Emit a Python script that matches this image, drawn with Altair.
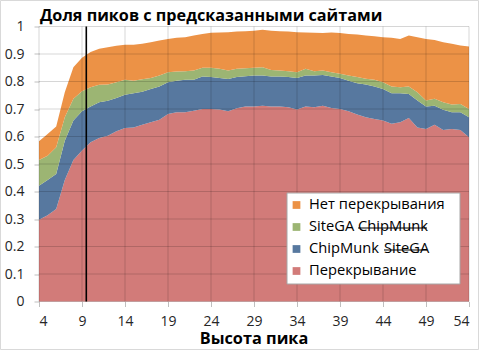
import altair as alt
import pandas as pd

# ---------------- data ----------------
x_vals = list(range(4, 55))

overlap = [0.297, 0.314, 0.336, 0.442, 0.515, 0.549, 0.579, 0.595, 0.603, 0.619,
           0.631, 0.633, 0.643, 0.652, 0.661, 0.682, 0.688, 0.688, 0.694, 0.700,
           0.700, 0.698, 0.692, 0.703, 0.709, 0.709, 0.712, 0.709, 0.709, 0.706,
           0.698, 0.709, 0.706, 0.712, 0.704, 0.700, 0.692, 0.680, 0.670, 0.664,
           0.658, 0.646, 0.652, 0.667, 0.633, 0.627, 0.643, 0.624, 0.627, 0.624,
           0.597]
chipmunk_only = [0.124, 0.128, 0.128, 0.143, 0.143, 0.143, 0.130, 0.130, 0.127, 0.121,
                 0.121, 0.124, 0.120, 0.121, 0.121, 0.115, 0.115, 0.118, 0.112, 0.118,
                 0.116, 0.115, 0.117, 0.113, 0.110, 0.113, 0.110, 0.109, 0.109, 0.110,
                 0.115, 0.113, 0.116, 0.112, 0.114, 0.113, 0.111, 0.114, 0.119, 0.118,
                 0.115, 0.111, 0.105, 0.088, 0.098, 0.082, 0.069, 0.073, 0.061, 0.064,
                 0.073]
sitega_only = [0.094, 0.088, 0.097, 0.085, 0.079, 0.073, 0.070, 0.063, 0.059, 0.057,
               0.054, 0.046, 0.045, 0.040, 0.040, 0.037, 0.033, 0.031, 0.034, 0.032,
               0.034, 0.033, 0.031, 0.030, 0.029, 0.028, 0.030, 0.024, 0.022, 0.021,
               0.021, 0.024, 0.015, 0.016, 0.016, 0.015, 0.019, 0.022, 0.021, 0.024,
               0.024, 0.025, 0.022, 0.027, 0.030, 0.022, 0.025, 0.028, 0.028, 0.030,
               0.030]
no_overlap = [0.068, 0.079, 0.075, 0.091, 0.115, 0.121, 0.128, 0.131, 0.136, 0.133,
              0.128, 0.131, 0.129, 0.130, 0.127, 0.121, 0.123, 0.124, 0.127, 0.123,
              0.127, 0.132, 0.139, 0.136, 0.135, 0.135, 0.136, 0.143, 0.143, 0.145,
              0.145, 0.132, 0.140, 0.136, 0.144, 0.148, 0.151, 0.155, 0.157, 0.159,
              0.164, 0.177, 0.176, 0.185, 0.200, 0.224, 0.214, 0.218, 0.221, 0.213,
              0.227]

series_names = ["Перекрывание", "ChipMunk SiteGA", "SiteGA ChipMunk", "Нет перекрывания"]
series_colors = ["#D27B79", "#57789F", "#9CB573", "#EC9246"]
series_values = [overlap, chipmunk_only, sitega_only, no_overlap]

x_ticks = [4, 9, 14, 19, 24, 29, 34, 39, 44, 49, 54]
y_ticks = [0, 0.1, 0.2, 0.3, 0.4, 0.5, 0.6, 0.7, 0.8, 0.9, 1.0]
marker_x = [9.5]

title_text = "Доля пиков с предсказанными сайтами"
x_title = "Высота пика"

# legend rows (top to bottom): (plain text, struck-through word)
legend_rows = [("Нет перекрывания", ""), ("SiteGA", "ChipMunk"),
               ("ChipMunk", "SiteGA"), ("Перекрывание", "")]
legend_colors = ["#EC9246", "#9CB573", "#57789F", "#D27B79"]

FONT = "Open Sans"

rows = []
for k, (name, vals) in enumerate(zip(series_names, series_values)):
    for xv, v in zip(x_vals, vals):
        rows.append({"x": xv, "v": v, "series": name, "ord": k})
df = pd.DataFrame(rows)

W, H = 430, 275

x_scale = alt.Scale(domain=[4, 54], nice=False, zero=False)
y_scale = alt.Scale(domain=[0, 1], nice=False)
x_axis = alt.Axis(values=x_ticks, grid=False, domain=False, tickSize=5,
                  tickColor="#BFBFBF", labelFontSize=14, labelFont=FONT,
                  labelColor="#262626", labelPadding=8, labelOverlap=False,
                  title=None)
y_axis = alt.Axis(values=y_ticks, format=".1~f", grid=False, domain=False,
                  tickSize=5, tickColor="#BFBFBF", labelFontSize=14,
                  labelFont=FONT, labelColor="#262626", labelPadding=10,
                  labelOverlap=False, title=None)

areas = alt.Chart(df).mark_area(opacity=1, interpolate="linear").encode(
    x=alt.X("x:Q", scale=x_scale, axis=x_axis),
    y=alt.Y("v:Q", stack="zero", scale=y_scale, axis=y_axis),
    color=alt.Color("series:N", scale=alt.Scale(domain=series_names, range=series_colors),
                    legend=None),
    order=alt.Order("ord:Q", sort="ascending"),
)

hgrid = alt.Chart(pd.DataFrame({"g": y_ticks})).mark_rule(
    color="#000000", opacity=0.16, strokeWidth=1).encode(
    y=alt.Y("g:Q", scale=y_scale, axis=y_axis))
vgrid = alt.Chart(pd.DataFrame({"g": x_ticks})).mark_rule(
    color="#000000", opacity=0.16, strokeWidth=1).encode(
    x=alt.X("g:Q", scale=x_scale, axis=x_axis))

vline = alt.Chart(pd.DataFrame({"m": marker_x})).mark_rule(
    color="#000000", strokeWidth=1.6).encode(x=alt.X("m:Q", scale=x_scale, axis=x_axis))

one = pd.DataFrame({"a": [0]})

title = alt.Chart(one).mark_text(
    text=title_text, font=FONT, fontSize=16.2, fontWeight="bold", align="left",
    baseline="alphabetic", color="#000000").encode(x=alt.value(1), y=alt.value(-5.5))

xtitle = alt.Chart(one).mark_text(
    text=x_title, font=FONT, fontSize=16.3, fontWeight="bold", align="center",
    baseline="alphabetic", color="#000000").encode(x=alt.value(W / 2), y=alt.value(H + 42))

# legend
LX0, LX1, LY0, LY1 = 248, 421, 166.5, 257.5
layers = [
    alt.Chart(one).mark_rect(fill="white", stroke="#A6A6A6", strokeWidth=1).encode(
        x=alt.value(LX0), x2=alt.value(LX1), y=alt.value(LY0), y2=alt.value(LY1))
]
row_y0, row_dy = 178.5, 22.0
strike_x = {"ChipMunk": (319, 388), "SiteGA": (345, 388)}
for i, ((plain, struck), col) in enumerate(zip(legend_rows, legend_colors)):
    yy = row_y0 + i * row_dy
    layers.append(alt.Chart(one).mark_square(size=60, color=col, opacity=1).encode(
        x=alt.value(257.5), y=alt.value(yy)))
    layers.append(alt.Chart(one).mark_text(
        text=plain, font=FONT, fontSize=14.7, align="left", baseline="middle",
        color="#000000").encode(x=alt.value(270), y=alt.value(yy)))
    if struck:
        sx0, sx1 = strike_x[struck]
        layers.append(alt.Chart(one).mark_text(
            text=struck, font=FONT, fontSize=14.7, align="left", baseline="middle",
            color="#000000").encode(x=alt.value(sx0), y=alt.value(yy)))
        layers.append(alt.Chart(one).mark_rule(color="#000000", strokeWidth=1.1).encode(
            x=alt.value(sx0), x2=alt.value(sx1), y=alt.value(yy + 1)))

border = alt.Chart(one).mark_rect(fill=None, stroke="#D9D9D9", strokeWidth=1).encode(
    x=alt.value(-38.5), x2=alt.value(439.5), y=alt.value(-26), y2=alt.value(323))

chart = alt.layer(areas, hgrid, vgrid, vline, *layers, title, xtitle, border).properties(
    width=W, height=H,
    padding={"left": 39, "top": 26.5, "right": 12, "bottom": 50.5},
    autosize=alt.AutoSizeParams(type="none"),
    background="white",
).configure_view(stroke=None)

chart.save("out.html", embed_options={"renderer": "svg", "actions": False})
